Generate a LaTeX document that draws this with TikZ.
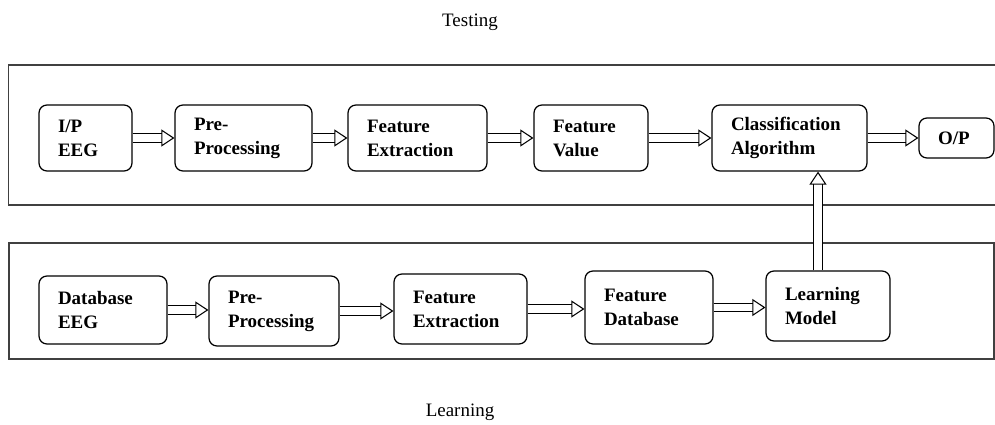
\documentclass[tikz,border=0pt]{standalone}
\usepackage{fontspec}
\setmainfont{Liberation Serif}
\usetikzlibrary{arrows.meta}

\tikzset{
    blk/.style 2 args={draw, line width=0.7pt, rounded corners=4.5pt, align=left,
        font=\fontsize{10.8pt}{13.6pt}\selectfont\bfseries,
        inner xsep=0.38cm, text width=#1, minimum height=#2},
    hollow/.style={double, double distance=4.2pt, line width=0.6pt,
        -{Triangle[open, length=0.26cm, width=0.34cm]}},
    frame/.style={draw=black!75, line width=0.9pt}
}

\begin{document}
\begin{tikzpicture}[x=0.02cm, y=-0.02cm]
    \useasboundingbox (0,0) rectangle (995,425);

    % Outer frames
    \draw[frame] (1010,65) -- (8.5,65) -- (8.5,205) -- (1010,205);
    \draw[frame] (9,243) rectangle (994,359);

    \node[font=\fontsize{10.8pt}{13pt}\selectfont] (testing) at (470,22) {Testing};
    \node[font=\fontsize{10.8pt}{13pt}\selectfont] (learning) at (460,412) {Learning};

    % Testing row
    \node[blk={1.10cm}{1.32cm}] (inp) at (85.5,138) {I/P\\EEG};
    \node[blk={1.98cm}{1.32cm}] (pre1) at (243.5,138) {Pre-\\Processing};
    \node[blk={2.02cm}{1.32cm}] (fe1) at (417.5,138) {Feature\\Extraction};
    \node[blk={1.52cm}{1.32cm}] (fv) at (591,138) {Feature\\Value};
    \node[blk={2.34cm}{1.32cm}] (clas) at (789.5,138) {Classification\\Algorithm};
    \node[blk={0.74cm}{0.8cm}] (out) at (956.5,138) {O/P};

    % Learning row
    \node[blk={1.80cm}{1.36cm}] (db) at (103,310) {Database\\EEG};
    \node[blk={1.84cm}{1.40cm}] (pre2) at (274,311) {Pre-\\Processing};
    \node[blk={1.90cm}{1.40cm}] (fe2) at (460.5,309) {Feature\\Extraction};
    \node[blk={1.80cm}{1.46cm}] (fdb) at (649,307.5) {Feature\\Database};
    \node[blk={1.72cm}{1.40cm}] (lm) at (828,306) {Learning\\Model};

    % Arrows
    \draw[hollow] (inp.east) -- (inp.east -| pre1.west);
    \draw[hollow] (pre1.east) -- (pre1.east -| fe1.west);
    \draw[hollow] (fe1.east) -- (fe1.east -| fv.west);
    \draw[hollow] (fv.east) -- (fv.east -| clas.west);
    \draw[hollow] (clas.east) -- (clas.east -| out.west);

    \draw[hollow] (db.east) -- (db.east -| pre2.west);
    \draw[hollow] (pre2.east) -- (pre2.east -| fe2.west);
    \draw[hollow] (fe2.east) -- (fe2.east -| fdb.west);
    \draw[hollow] (fdb.east) -- (fdb.east -| lm.west);

    \draw[hollow] ([xshift=-0.2cm]lm.north) -- ([xshift=-0.2cm]lm.north |- clas.south);
\end{tikzpicture}
\end{document}
